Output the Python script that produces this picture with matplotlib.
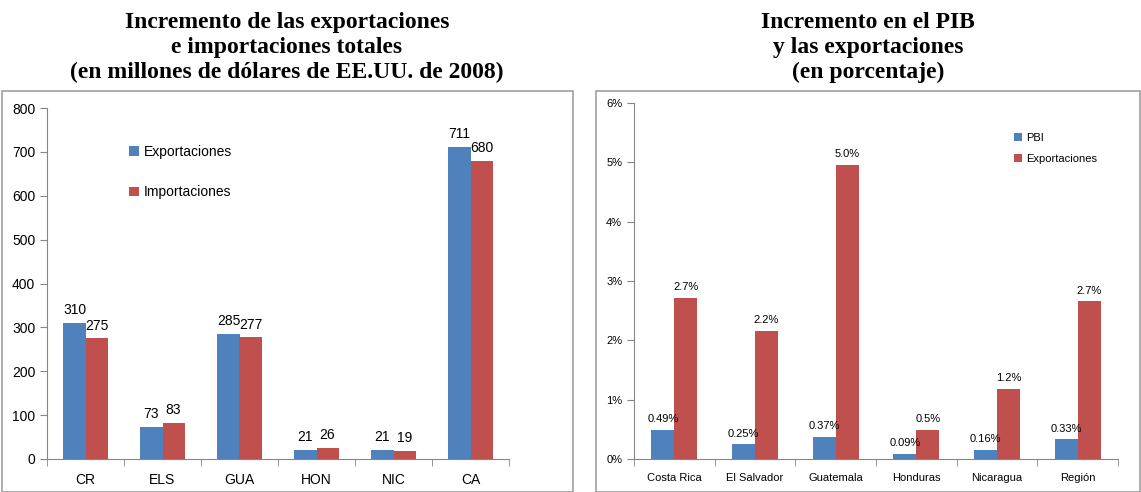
import matplotlib
matplotlib.use("Agg")
import matplotlib.pyplot as plt
import numpy as np
from matplotlib.patches import Rectangle
from matplotlib.ticker import FixedLocator

# --- datos ---
paises_izq = ["CR", "ELS", "GUA", "HON", "NIC", "CA"]
exportaciones = [310, 73, 285, 21, 21, 711]
importaciones = [275, 83, 277, 26, 19, 680]

paises_der = ["Costa Rica", "El Salvador", "Guatemala", "Honduras", "Nicaragua", "Región"]
pbi = [0.49, 0.25, 0.37, 0.09, 0.16, 0.33]
pbi_txt = ["0.49%", "0.25%", "0.37%", "0.09%", "0.16%", "0.33%"]
export_pct = [2.72, 2.16, 4.96, 0.49, 1.18, 2.66]
export_pct_txt = ["2.7%", "2.2%", "5.0%", "0.5%", "1.2%", "2.7%"]

AZUL = "#4F81BD"
ROJO = "#C0504D"
GRIS = "#868686"
FUENTE = "Liberation Sans"

W, H = 1141, 492
fig = plt.figure(figsize=(W / 100, H / 100), dpi=100)


def px_ax(x0, x1, ytop, ybot):
    return fig.add_axes([x0 / W, (H - ybot) / H, (x1 - x0) / W, (ybot - ytop) / H])


# marcos de los graficos
for x0, x1 in ((2, 573), (596, 1140)):
    fig.patches.append(Rectangle((x0 / W, 0), (x1 - x0) / W, (H - 91) / H,
                                 transform=fig.transFigure, fill=False,
                                 edgecolor="#A0A0A0", lw=1.2))

titulo_kw = dict(ha="center", va="top", fontsize=17, fontweight="bold",
                 family="Liberation Serif", linespacing=1.25)
fig.text(287 / W, 1 - 12 / H, "Incremento de las exportaciones\ne importaciones totales\n"
         "(en millones de dólares de EE.UU. de 2008)", **titulo_kw)
fig.text(868 / W, 1 - 12 / H, "Incremento en el PIB\ny las exportaciones\n(en porcentaje)",
         **titulo_kw)


def estilo(ax, n, fs):
    for s in ("top", "right"):
        ax.spines[s].set_visible(False)
    for s in ("left", "bottom"):
        ax.spines[s].set_color(GRIS)
    ax.set_xlim(-0.5, n - 0.5)
    ax.xaxis.set_minor_locator(FixedLocator(np.arange(-0.5, n, 1.0)))
    ax.tick_params(axis="x", which="major", length=0, pad=10, labelsize=fs)
    ax.tick_params(axis="x", which="minor", length=5, color=GRIS)
    ax.tick_params(axis="y", length=5, color=GRIS, labelsize=fs)
    for lbl in ax.get_xticklabels() + ax.get_yticklabels():
        lbl.set_family(FUENTE)


# --- izquierda ---
ax1 = px_ax(47, 509, 108, 459)
x = np.arange(len(paises_izq))
bw = 0.286
b1 = ax1.bar(x - bw / 2, exportaciones, bw, color=AZUL, label="Exportaciones")
b2 = ax1.bar(x + bw / 2, importaciones, bw, color=ROJO, label="Importaciones")
ax1.set_ylim(0, 800)
ax1.set_yticks(range(0, 801, 100))
ax1.set_xticks(x)
ax1.set_xticklabels(paises_izq)
estilo(ax1, len(paises_izq), 10)
for bars in (b1, b2):
    ax1.bar_label(bars, padding=4, fontsize=10, family=FUENTE)
ax1.legend(loc="upper left", bbox_to_anchor=(0.15, 0.93), frameon=False,
           handlelength=0.7, handleheight=0.7, handletextpad=0.4, labelspacing=1.9,
           prop={"family": FUENTE, "size": 10})

# --- derecha ---
ax2 = px_ax(634, 1118, 103, 459)
x = np.arange(len(paises_der))
b3 = ax2.bar(x - bw / 2, pbi, bw, color=AZUL, label="PBI")
b4 = ax2.bar(x + bw / 2, export_pct, bw, color=ROJO, label="Exportaciones")
ax2.set_ylim(0, 6)
ax2.set_yticks(range(0, 7))
ax2.set_yticklabels([f"{v}%" for v in range(0, 7)])
ax2.set_xticks(x)
ax2.set_xticklabels(paises_der)
estilo(ax2, len(paises_der), 8)
ax2.bar_label(b3, labels=pbi_txt, padding=4, fontsize=8, family=FUENTE)
ax2.bar_label(b4, labels=export_pct_txt, padding=4, fontsize=8, family=FUENTE)
ax2.legend(loc="upper left", bbox_to_anchor=(0.765, 0.945), frameon=False,
           handlelength=0.7, handleheight=0.7, handletextpad=0.4, labelspacing=1.0,
           prop={"family": FUENTE, "size": 8})

fig.savefig("out.png", dpi=100)
